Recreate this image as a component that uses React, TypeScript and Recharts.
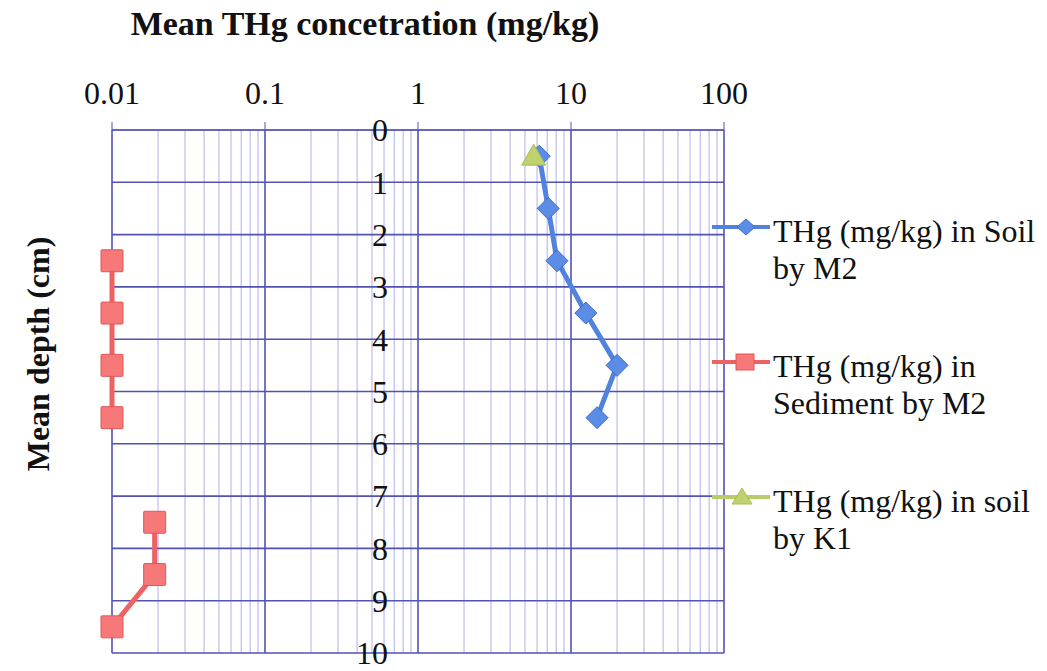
import React from 'react';
import { ScatterChart, Scatter, XAxis, YAxis, ReferenceLine, ReferenceDot, Legend } from 'recharts';

// depth (cm) on y, concentration (mg/kg, log) on x
const depthTicks = [0, 1, 2, 3, 4, 5, 6, 7, 8, 9, 10];
const concTicks = [0.01, 0.1, 1, 10, 100];
const minorSteps = [2, 3, 4, 5, 6, 7, 8, 9];

const soilM2Depth = [0.5, 1.5, 2.5, 3.5, 4.5, 5.5];
const soilM2Conc = [6.2, 7.1, 8.1, 12.5, 20, 14.8];

// sediment profile has a gap between 5.5 and 7.5 cm
const sedimentTopDepth = [2.5, 3.5, 4.5, 5.5];
const sedimentTopConc = [0.01, 0.01, 0.01, 0.01];
const sedimentLowDepth = [7.5, 8.5, 9.5];
const sedimentLowConc = [0.019, 0.019, 0.01];

const soilK1Depth = [0.5];
const soilK1Conc = [5.7];

const zip = (depth: number[], conc: number[]) => depth.map((d, i) => ({ depth: d, conc: conc[i] }));

const soilM2 = zip(soilM2Depth, soilM2Conc);
const sedimentTop = zip(sedimentTopDepth, sedimentTopConc);
const sedimentLow = zip(sedimentLowDepth, sedimentLowConc);
const soilK1 = zip(soilK1Depth, soilK1Conc);

// minor log grid lines between the decades
const minorGrid = concTicks.slice(0, -1).flatMap((d) => minorSteps.map((s) => +(d * s).toPrecision(2)));

const FONT = '"Liberation Serif", "Times New Roman", serif';
const MAJOR = '#5252b4';
const MINOR = '#c6c6f0';

const BLUE = { line: '#5183dd', fill: '#5b8ce6', edge: '#3f6cc6' };
const RED = { line: '#ef6262', fill: '#f67878', edge: '#e45555' };
const GREEN = { line: '#b9cc6c', fill: '#bfd270', edge: '#a9bd58' };

const Diamond = (props: any) => {
  const { cx, cy } = props;
  const r = 11;
  return (
    <polygon
      points={`${cx},${cy - r} ${cx + r},${cy} ${cx},${cy + r} ${cx - r},${cy}`}
      fill={BLUE.fill}
      stroke={BLUE.edge}
      strokeWidth={1}
    />
  );
};

const Square = (props: any) => {
  const { cx, cy } = props;
  const h = 11;
  return <rect x={cx - h} y={cy - h} width={2 * h} height={2 * h} fill={RED.fill} stroke={RED.edge} strokeWidth={1} rx={1} />;
};

const Triangle = (props: any) => {
  const { cx, cy } = props;
  return (
    <polygon
      points={`${cx},${cy - 12} ${cx + 12},${cy + 9} ${cx - 12},${cy + 9}`}
      fill={GREEN.fill}
      stroke={GREEN.edge}
      strokeWidth={1}
    />
  );
};

const legendItems = [
  { lines: ['THg (mg/kg) in Soil', 'by M2'], c: BLUE, icon: 'diamond' },
  { lines: ['THg (mg/kg) in', 'Sediment by M2'], c: RED, icon: 'square' },
  { lines: ['THg (mg/kg) in soil', 'by K1'], c: GREEN, icon: 'triangle' },
];

const LegendIcon = ({ icon, c }: { icon: string; c: typeof BLUE }) => (
  <svg width={62} height={24} style={{ position: 'absolute', left: 0, top: 2 }}>
    <line x1={2} y1={12} x2={60} y2={12} stroke={c.line} strokeWidth={4} />
    {icon === 'diamond' && <polygon points="36,4 45,12 36,20 27,12" fill={c.fill} stroke={c.edge} />}
    {icon === 'square' && <rect x={26} y={4} width={18} height={16} fill={c.fill} stroke={c.edge} />}
    {icon === 'triangle' && <polygon points="32,3 42,19 22,19" fill={c.fill} stroke={c.edge} />}
  </svg>
);

const ChartLegend = () => (
  <div style={{ position: 'relative', fontFamily: FONT, fontSize: 32, lineHeight: '37px', color: '#111' }}>
    {legendItems.map((it, i) => (
      <div key={i} style={{ position: 'relative', height: 74, marginBottom: i < 2 ? 61 : 0 }}>
        <LegendIcon icon={it.icon} c={it.c} />
        <div style={{ position: 'absolute', left: 63, top: 0, whiteSpace: 'nowrap' }}>
          {it.lines.map((l, j) => (
            <div key={j}>{l}</div>
          ))}
        </div>
      </div>
    ))}
  </div>
);

export default function App() {
  return (
    <div style={{ position: 'absolute', left: 0, top: 0, width: 1047, height: 671, background: '#fff', overflow: 'hidden' }}>
      <ScatterChart width={1047} height={671} margin={{ top: 80, right: 323, bottom: 18, left: 112 }}>
        <XAxis
          type="number"
          dataKey="conc"
          scale="log"
          domain={[0.01, 100]}
          ticks={concTicks}
          orientation="top"
          height={50}
          interval={0}
          tickSize={8}
          tickMargin={18}
          stroke={MAJOR}
          tickFormatter={(v: number) => String(v)}
          tick={{ fill: '#111', fontSize: 32, fontFamily: FONT }}
        />
        <YAxis type="number" dataKey="depth" domain={[0, 10]} ticks={depthTicks} reversed hide />
        {minorGrid.map((v) => (
          <ReferenceLine key={`m${v}`} x={v} stroke={MINOR} strokeWidth={1.4} />
        ))}
        {concTicks.map((v) => (
          <ReferenceLine key={`M${v}`} x={v} stroke={MAJOR} strokeWidth={1.6} />
        ))}
        {depthTicks.map((d) => (
          <ReferenceLine key={`h${d}`} y={d} stroke={MAJOR} strokeWidth={1.6} />
        ))}
        {depthTicks.map((d) => (
          <ReferenceDot
            key={`t${d}`}
            x={1}
            y={d}
            r={0}
            ifOverflow="visible"
            label={{ value: String(d), position: 'left', offset: 30, fill: '#111', fontSize: 32, fontFamily: FONT }}
          />
        ))}
        <Legend
          layout="vertical"
          align="center"
          verticalAlign="middle"
          wrapperStyle={{ position: 'absolute', left: 710, top: 213, width: 337 }}
          content={() => <ChartLegend />}
        />
        <Scatter
          name="THg (mg/kg) in Soil by M2"
          data={soilM2}
          fill={BLUE.fill}
          line={{ stroke: BLUE.line, strokeWidth: 5 }}
          shape={Diamond}
          isAnimationActive={false}
        />
        <Scatter
          name="THg (mg/kg) in Sediment by M2"
          data={sedimentTop}
          fill={RED.fill}
          line={{ stroke: RED.line, strokeWidth: 5 }}
          shape={Square}
          isAnimationActive={false}
        />
        <Scatter
          name="THg (mg/kg) in Sediment by M2 (lower)"
          data={sedimentLow}
          fill={RED.fill}
          line={{ stroke: RED.line, strokeWidth: 5 }}
          shape={Square}
          legendType="none"
          isAnimationActive={false}
        />
        <Scatter
          name="THg (mg/kg) in soil by K1"
          data={soilK1}
          fill={GREEN.fill}
          line={{ stroke: GREEN.line, strokeWidth: 5 }}
          shape={Triangle}
          isAnimationActive={false}
        />
      </ScatterChart>
      <div
        style={{
          position: 'absolute',
          left: 365,
          top: 7,
          transform: 'translateX(-50%)',
          fontFamily: FONT,
          fontWeight: 'bold',
          fontSize: 34,
          lineHeight: '34px',
          whiteSpace: 'nowrap',
          color: '#111',
        }}
      >
        Mean THg concetration (mg/kg)
      </div>
      <div
        style={{
          position: 'absolute',
          left: 38,
          top: 354,
          transform: 'translate(-50%, -50%) rotate(-90deg)',
          fontFamily: FONT,
          fontWeight: 'bold',
          fontSize: 32,
          lineHeight: '32px',
          whiteSpace: 'nowrap',
          color: '#111',
        }}
      >
        Mean depth (cm)
      </div>
    </div>
  );
}
